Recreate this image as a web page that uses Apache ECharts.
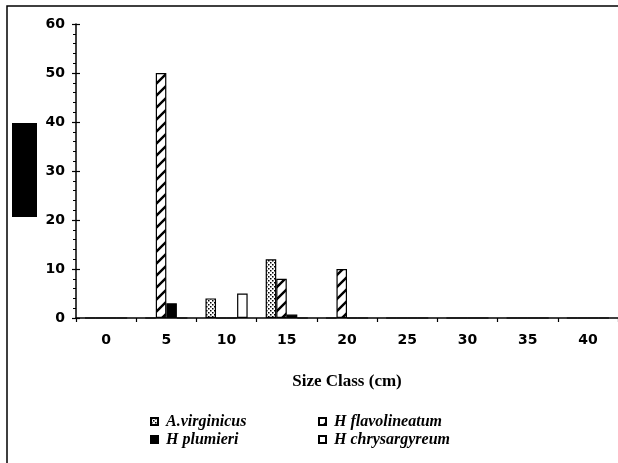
<!DOCTYPE html>
<html>
<head>
<meta charset="utf-8">
<script src="https://cdn.jsdelivr.net/npm/echarts@6/dist/echarts.min.js"></script>
<style>
  html, body { margin: 0; padding: 0; background: #fff; }
  #chart { width: 618px; height: 463px; }
</style>
</head>
<body>
<div id="chart"></div>
<script>
// Size classes (cm) on the category axis
const categories = ['0', '5', '10', '15', '20', '25', '30', '35', '40'];

// Values per species, one per size class
const virginicus    = [0, 0, 4, 12, 0, 0, 0, 0, 0];
const flavolineatum = [0, 50, 0, 8, 10, 0, 0, 0, 0];
const plumieri      = [0, 3, 0, 0.7, 0, 0, 0, 0, 0];
const chrysargyreum = [0, 0, 5, 0, 0, 0, 0, 0, 0];

const seriesNames = ['A.virginicus', 'H flavolineatum', 'H plumieri', 'H chrysargyreum'];

// Fill patterns drawn on small canvases
function dotPattern() {
  const c = document.createElement('canvas');
  c.width = 4; c.height = 4;
  const g = c.getContext('2d');
  g.fillStyle = '#fff'; g.fillRect(0, 0, 4, 4);
  g.fillStyle = '#000';
  g.fillRect(0, 0, 1.5, 1.5);
  g.fillRect(2, 2, 1.5, 1.5);
  return { image: c, repeat: 'repeat' };
}
function hatchPattern() {
  const s = 12;
  const c = document.createElement('canvas');
  c.width = s; c.height = s;
  const g = c.getContext('2d');
  g.fillStyle = '#fff'; g.fillRect(0, 0, s, s);
  g.strokeStyle = '#000';
  g.lineWidth = 2.4;
  g.beginPath();
  g.moveTo(-2, s + 2); g.lineTo(s + 2, -2);
  g.moveTo(-2, 2); g.lineTo(2, -2);
  g.moveTo(s - 2, s + 2); g.lineTo(s + 2, s - 2);
  g.stroke();
  return { image: c, repeat: 'repeat' };
}

const fills = [dotPattern(), hatchPattern(), '#000', '#fff'];
const values = [virginicus, flavolineatum, plumieri, chrysargyreum];

const tickFont = { fontFamily: 'DejaVu Sans', fontWeight: 'bold', fontSize: 14, color: '#000' };
const legendFont = { fontFamily: 'Liberation Serif', fontStyle: 'italic', fontWeight: 'bold',
                     fontSize: 16, color: '#000', lineHeight: 17, padding: [0, 0, 0, 3] };

// Legend laid out as a 2 x 2 block
const legendPos = [[150, 413], [318, 413], [150, 431], [318, 431]];

const chart = echarts.init(document.getElementById('chart'), null, { renderer: 'canvas' });
chart.setOption({
  animation: false,
  backgroundColor: '#fff',
  grid: { left: 76, top: 24, width: 551, bottom: 145, containLabel: false },
  xAxis: {
    type: 'category',
    data: categories,
    axisLine: { lineStyle: { color: '#000', width: 1.5 } },
    axisTick: { show: true, alignWithLabel: false, length: 4, lineStyle: { color: '#000', width: 1.2 } },
    axisLabel: Object.assign({ margin: 15 }, tickFont),
    name: 'Size Class (cm)',
    nameLocation: 'middle',
    nameGap: 55,
    nameTextStyle: { fontFamily: 'Liberation Serif', fontWeight: 'bold', fontSize: 17, color: '#000' },
    splitLine: { show: false }
  },
  yAxis: [
    {
      type: 'value', min: 0, max: 60, interval: 10, position: 'left',
      axisLine: { show: true, lineStyle: { color: '#000', width: 1.5 } },
      axisTick: { show: true, length: 4, lineStyle: { color: '#000', width: 1.2 } },
      minorTick: { show: true, splitNumber: 5, length: 3, lineStyle: { color: '#000', width: 1 } },
      axisLabel: Object.assign({ margin: 11 }, tickFont),
      splitLine: { show: false }
    },
    {
      type: 'value', min: 0, max: 60, interval: 10, position: 'left',
      axisLine: { show: false },
      axisTick: { show: true, inside: true, length: 4, lineStyle: { color: '#000', width: 1.2 } },
      axisLabel: { show: false },
      splitLine: { show: false }
    }
  ],
  legend: seriesNames.map((n, i) => ({
    data: [n],
    left: legendPos[i][0],
    top: legendPos[i][1],
    padding: 0,
    itemWidth: 7,
    itemHeight: 7,
    icon: 'rect',
    selectedMode: false,
    textStyle: legendFont
  })),
  series: seriesNames.map((n, i) => ({
    name: n,
    type: 'bar',
    data: values[i],
    barGap: '0%',
    barCategoryGap: '30%',
    itemStyle: { color: fills[i], borderColor: '#000', borderWidth: 1.2 },
    emphasis: { disabled: true }
  })),
  graphic: [
    {
      type: 'polyline',
      shape: { points: [[7, 463], [7, 6], [618, 6]] },
      style: { stroke: '#000', lineWidth: 1.5, fill: null }
    },
    {
      type: 'rect',
      shape: { x: 12, y: 123, width: 25, height: 94 },
      style: { fill: '#000' }
    }
  ]
});
</script>
</body>
</html>
